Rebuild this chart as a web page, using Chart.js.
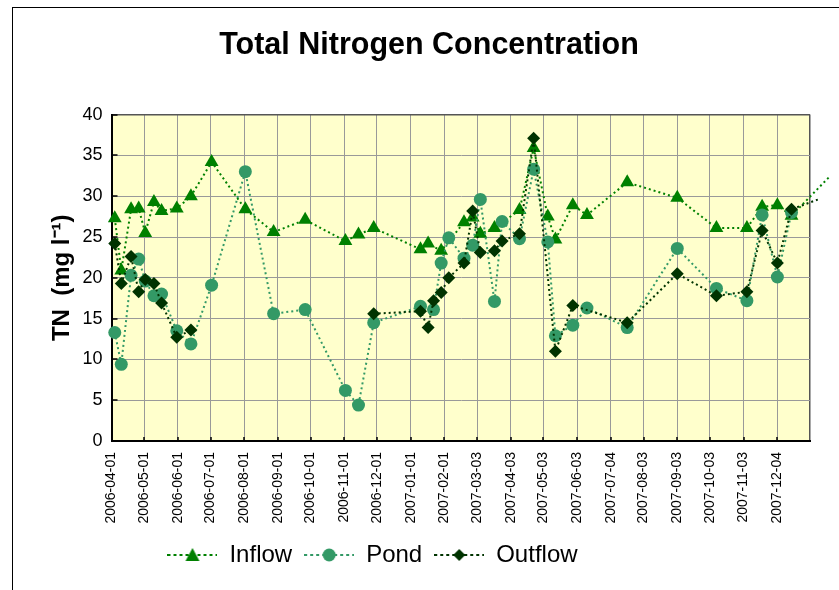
<!DOCTYPE html>
<html><head><meta charset="utf-8">
<script src="https://cdn.jsdelivr.net/npm/chart.js@4/dist/chart.umd.min.js"></script>
<style>html,body{margin:0;padding:0;background:#fff}</style>
</head><body>
<canvas id="c" width="839" height="590"></canvas>
<script>
// ---- data ----
const tickLabels = ['2006-04-01','2006-05-01','2006-06-01','2006-07-01','2006-08-01','2006-09-01','2006-10-01','2006-11-01','2006-12-01','2007-01-01','2007-02-01','2007-03-03','2007-04-03','2007-05-03','2007-06-03','2007-07-04','2007-08-03','2007-09-03','2007-10-03','2007-11-03','2007-12-04'];
const axisEnd = '2008-01-03';
const yTicks = [0,5,10,15,20,25,30,35,40];

const inflowDates = ['2006-04-04','2006-04-10','2006-04-19','2006-04-26','2006-05-02','2006-05-10','2006-05-17','2006-05-31','2006-06-13','2006-07-02','2006-08-02','2006-08-28','2006-09-26','2006-11-02','2006-11-14','2006-11-28','2007-01-10','2007-01-17','2007-01-29','2007-02-19','2007-02-27','2007-03-06','2007-03-19','2007-04-11','2007-04-24','2007-05-07','2007-05-14','2007-05-30','2007-06-12','2007-07-19','2007-09-03','2007-10-09','2007-11-06','2007-11-20','2007-12-04','2007-12-17','2008-01-21'];
const inflowValues = [27.3,20.9,28.4,28.5,25.5,29.3,28.2,28.5,30.0,34.2,28.4,25.6,27.1,24.5,25.3,26.1,23.5,24.2,23.3,26.8,27.4,25.4,26.1,28.3,35.9,27.5,24.7,28.9,27.7,31.7,29.8,26.1,26.1,28.7,28.9,27.6,32.4];

const pondDates = ['2006-04-04','2006-04-10','2006-04-19','2006-04-26','2006-05-02','2006-05-10','2006-05-17','2006-05-31','2006-06-13','2006-07-02','2006-08-02','2006-08-28','2006-09-26','2006-11-02','2006-11-14','2006-11-28','2007-01-10','2007-01-22','2007-01-29','2007-02-05','2007-02-19','2007-02-27','2007-03-06','2007-03-19','2007-03-26','2007-04-11','2007-04-24','2007-05-07','2007-05-14','2007-05-30','2007-06-12','2007-07-19','2007-09-03','2007-10-09','2007-11-06','2007-11-20','2007-12-04','2007-12-17'];
const pondValues = [13.3,9.4,20.3,22.3,19.6,17.8,18.0,13.5,11.9,19.1,33.0,15.6,16.1,6.2,4.4,14.5,16.5,16.1,21.8,24.9,22.4,24.0,29.6,17.1,26.9,24.8,33.3,24.4,12.9,14.2,16.3,13.9,23.6,18.7,17.2,27.7,20.1,28.0];

const outflowDates = ['2006-04-04','2006-04-10','2006-04-19','2006-04-26','2006-05-02','2006-05-10','2006-05-17','2006-05-31','2006-06-13','2006-09-01','2006-11-28','2007-01-10','2007-01-17','2007-01-22','2007-01-29','2007-02-05','2007-02-19','2007-02-27','2007-03-06','2007-03-19','2007-03-26','2007-04-11','2007-04-24','2007-05-14','2007-05-30','2007-07-19','2007-09-03','2007-10-09','2007-11-06','2007-11-20','2007-12-04','2007-12-17','2008-02-10'];
const outflowValues = [24.2,19.3,22.6,18.3,19.8,19.3,16.9,12.7,13.6,null,15.6,15.9,13.9,17.2,18.2,20.0,21.8,28.2,23.1,23.3,24.5,25.4,37.1,11.0,16.6,14.5,20.5,17.8,18.3,25.8,21.8,28.4,31.1];

// ---- helpers ----
const FONT = "'Liberation Sans', Arial, Helvetica, sans-serif";
const dayOf = s => (Date.parse(s) - Date.parse(tickLabels[0])) / 86400000;
const tickDays = tickLabels.map(dayOf);
const xMax = dayOf(axisEnd);
const pts = (dates, vals) => dates.map((d, i) => ({x: dayOf(d), y: vals[i]}));

const C_IN = '#008000', C_POND = '#339966', C_OUT = '#003300';

function legendSymbol(color, style) {
  const cv = document.createElement('canvas');
  cv.width = 50; cv.height = 20;
  const g = cv.getContext('2d');
  g.strokeStyle = color; g.lineWidth = 2; g.setLineDash([3, 3]);
  g.beginPath(); g.moveTo(0, 10); g.lineTo(50, 10); g.stroke();
  g.setLineDash([]); g.fillStyle = color;
  g.beginPath();
  if (style === 'triangle') { g.moveTo(25, 3); g.lineTo(32, 16); g.lineTo(18, 16); }
  else if (style === 'circle') { g.arc(25, 10, 6.5, 0, Math.PI * 2); }
  else { g.moveTo(25, 4); g.lineTo(31, 10); g.lineTo(25, 16); g.lineTo(19, 10); }
  g.closePath(); g.fill();
  return cv;
}
const symbols = [legendSymbol(C_IN, 'triangle'), legendSymbol(C_POND, 'circle'), legendSymbol(C_OUT, 'rectRot')];

const hideBeyond = r => ctx => (ctx.raw && ctx.raw.x > xMax) ? 0 : r;

const framePlugin = {
  id: 'frame',
  afterLayout(chart) {
    chart.legend.left -= 32.5; chart.legend.right -= 32.5;
    chart.titleBlock.left += 24; chart.titleBlock.right += 24;
  },
  beforeDraw(chart) {
    const {ctx, chartArea: a} = chart;
    ctx.save();
    ctx.fillStyle = '#FFFFCC';
    ctx.fillRect(a.left, a.top, a.right - a.left, a.bottom - a.top);
    ctx.strokeStyle = '#000'; ctx.lineWidth = 1;
    ctx.strokeRect(12.5, 7.5, 900, 700);
    ctx.restore();
  },
  afterDatasetsDraw(chart) {
    const {ctx, chartArea: a, scales: {x, y}} = chart;
    ctx.save();
    ctx.strokeStyle = '#000'; ctx.lineWidth = 1.5;
    ctx.beginPath();
    yTicks.forEach(v => { const p = Math.round(y.getPixelForValue(v)); ctx.moveTo(a.left, p); ctx.lineTo(a.left + 6, p); });
    tickDays.forEach(v => { const p = Math.round(x.getPixelForValue(v)); ctx.moveTo(p, a.bottom); ctx.lineTo(p, a.bottom - 4); });
    ctx.stroke();
    ctx.restore();
  }
};

new Chart(document.getElementById('c'), {
  type: 'line',
  data: {
    datasets: [
      { label: 'Inflow', data: pts(inflowDates, inflowValues), borderColor: C_IN, backgroundColor: C_IN,
        pointStyle: 'triangle', pointRadius: hideBeyond(8), pointBorderWidth: 0, borderWidth: 2, borderDash: [2, 3],
        order: 3, clip: {left: 12, top: 12, right: 20, bottom: 12} },
      { label: 'Pond', data: pts(pondDates, pondValues), borderColor: C_POND, backgroundColor: C_POND,
        pointStyle: 'circle', pointRadius: hideBeyond(6.5), pointBorderWidth: 0, borderWidth: 2, borderDash: [2, 3],
        order: 2, clip: {left: 12, top: 12, right: 12, bottom: 12} },
      { label: 'Outflow', data: pts(outflowDates, outflowValues), borderColor: C_OUT, backgroundColor: C_OUT,
        pointStyle: 'rectRot', pointRadius: hideBeyond(6.5), pointBorderWidth: 0, borderWidth: 2, borderDash: [2, 3],
        order: 1, spanGaps: false, clip: {left: 12, top: 12, right: 8, bottom: 12} }
    ]
  },
  options: {
    responsive: false, animation: false,
    layout: { padding: { left: 0, right: 29, top: 0, bottom: 13 } },
    plugins: {
      title: { display: true, text: 'Total Nitrogen Concentration', color: '#000',
        font: { family: FONT, size: 30.5, weight: 'bold' }, padding: { top: 27, bottom: 51 } },
      legend: { position: 'bottom',
        labels: { color: '#000', font: { family: FONT, size: 24 }, usePointStyle: true, pointStyleWidth: 50, padding: 12,
          generateLabels(chart) {
            const items = Chart.defaults.plugins.legend.labels.generateLabels(chart);
            items.sort((a, b) => a.datasetIndex - b.datasetIndex);
            items.forEach(it => { it.pointStyle = symbols[it.datasetIndex]; });
            return items;
          } } },
      tooltip: { enabled: false }
    },
    scales: {
      x: { type: 'linear', min: 0, max: xMax,
        afterBuildTicks(s) { s.ticks = tickDays.concat([xMax]).map(v => ({value: v})); },
        afterFit(s) { s.height = 90; },
        ticks: { autoSkip: false, maxRotation: 90, minRotation: 90, padding: 11, color: '#000',
          font: { family: FONT, size: 14 },
          callback(v) { const i = tickDays.indexOf(v); return i >= 0 ? tickLabels[i] : ''; } },
        grid: { color: ctx => (ctx.tick && ctx.tick.value === xMax) ? '#555' : '#999', lineWidth: ctx => (ctx.tick && ctx.tick.value === xMax) ? 1.5 : 1, drawTicks: false },
        border: { color: '#000', width: 2 } },
      y: { min: 0, max: 40,
        afterBuildTicks(s) { s.ticks = yTicks.map(v => ({value: v})); },
        afterFit(s) { s.width = 111.5; },
        ticks: { padding: 9, color: '#000', font: { family: FONT, size: 18 } },
        grid: { color: ctx => (ctx.tick && ctx.tick.value === 40) ? '#555' : '#999', lineWidth: ctx => (ctx.tick && ctx.tick.value === 40) ? 1.5 : 1, drawTicks: false },
        border: { color: '#000', width: 2 },
        title: { display: true, text: 'TN  (mg l⁻¹)', color: '#000', font: { family: FONT, size: 24, weight: 'bold' }, padding: { top: 48, bottom: 0 } } }
    }
  },
  plugins: [framePlugin]
});
</script>
</body></html>
